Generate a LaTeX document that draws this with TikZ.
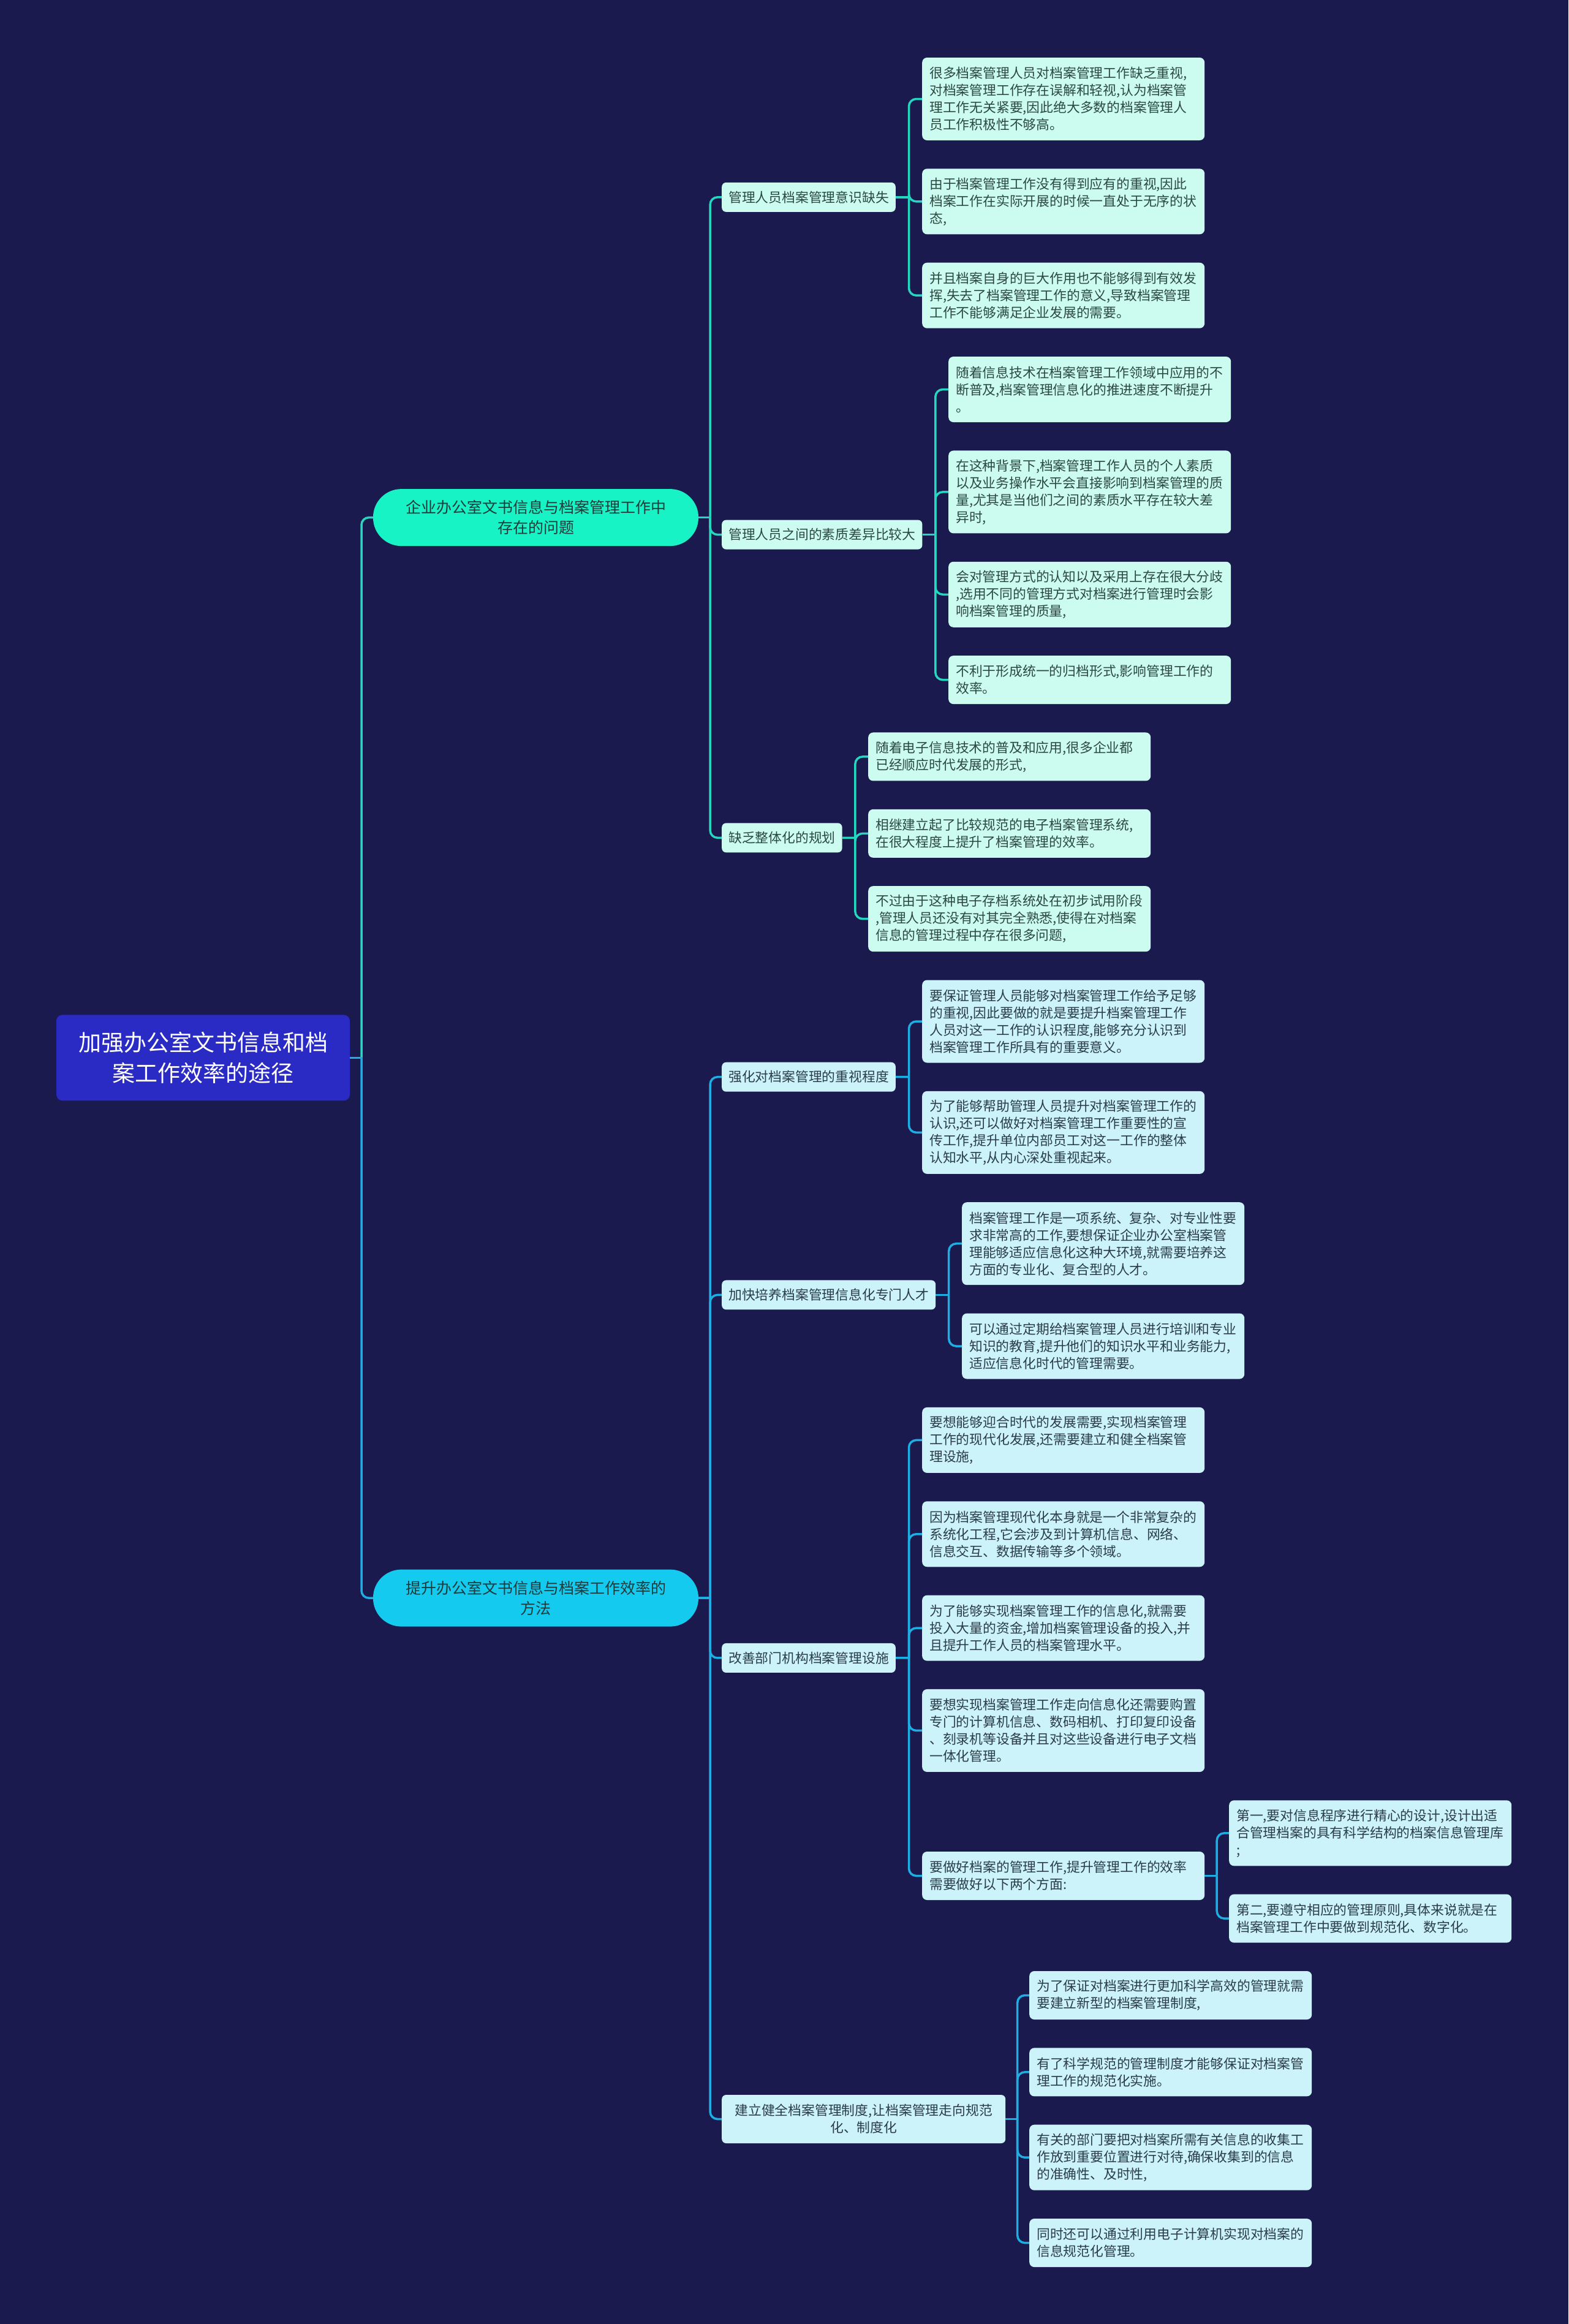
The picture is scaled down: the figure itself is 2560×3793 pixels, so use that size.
\documentclass[tikz,border=0pt]{standalone}
\usepackage{fontspec}
\setmainfont{Noto Sans CJK SC}
\usetikzlibrary{calc}
\definecolor{bgc}{HTML}{1B1A4F}
\definecolor{rootc}{HTML}{2A2AC4}
\definecolor{bonefill}{HTML}{18F3C5}
\definecolor{btwofill}{HTML}{14CAEE}
\definecolor{edgeAc}{HTML}{25D7BE}
\definecolor{edgeBc}{HTML}{1DAEE3}
\definecolor{leafAc}{HTML}{CCFBEF}
\definecolor{leafBc}{HTML}{CCF2FA}
\definecolor{textAc}{HTML}{2B4843}
\definecolor{textBc}{HTML}{2A3D47}
\definecolor{pilltext}{HTML}{1F3A3A}
\tikzset{
  basefont/.style={font=\fontsize{21.8}{28}\selectfont},
  rootn/.style={fill=rootc, text=white, rounded corners=10pt, minimum width=479pt,
    minimum height=140pt, align=center, inner sep=0pt, font=\fontsize{37}{50}\selectfont},
  pill/.style={rounded corners=46pt, minimum width=531pt, minimum height=93pt,
    align=center, inner sep=0pt, text=pilltext, font=\fontsize{25}{33}\selectfont},
  pillA/.style={pill, fill=bonefill},
  pillB/.style={pill, fill=btwofill},
  subn/.style={basefont, rounded corners=7pt, anchor=west, inner xsep=11pt, inner ysep=0pt,
    minimum height=48pt},
  subA/.style={subn, fill=leafAc, text=textAc},
  subB/.style={subn, fill=leafBc, text=textBc},
  leafn/.style={basefont, rounded corners=8pt, anchor=west, inner xsep=12pt, inner ysep=0pt,
    text width=437pt, align=left},
  leafA/.style={leafn, fill=leafAc, text=textAc},
  leafB/.style={leafn, fill=leafBc, text=textBc},
  nl/.style={minimum height={23pt+#1*28pt}},
  edgeA/.style={draw=edgeAc, line width=3.5pt, rounded corners=12pt},
  edgeB/.style={draw=edgeBc, line width=3.5pt, rounded corners=12pt},
}
\newcommand\myfan[4]{%
  \coordinate (J-#1) at ($(#1.east)!0.5!(#1.east -| #3.west)$);
  \draw[#2] (#1.east) -- (J-#1);
  \foreach \c in {#4} {\draw[#2] (J-#1) |- (\c.west);}
}
\begin{document}
\begin{tikzpicture}[x=1pt,y=-1pt]
\fill[bgc] (0,0) rectangle (2560,3793);
\useasboundingbox (0,0) rectangle (2560,3793);

% root and main branches
\node[rootn] (R) at (331.5,1726.35) {加强办公室文书信息和档\\案工作效率的途径};
\node[pillA] (B1) at (874.5,844.6) {企业办公室文书信息与档案管理工作中\\存在的问题};
\node[pillB] (B2) at (874.5,2608.1) {提升办公室文书信息与档案工作效率的\\方法};

% sub-branches
\node[subA] (S1) at (1178,321.85) {管理人员档案管理意识缺失};
\node[subA] (S2) at (1178,872.6) {管理人员之间的素质差异比较大};
\node[subA] (S3) at (1178,1367.3) {缺乏整体化的规划};
\node[subB] (S4) at (1178,1757.7) {强化对档案管理的重视程度};
\node[subB] (S5) at (1178,2113.4) {加快培养档案管理信息化专门人才};
\node[subB] (S6) at (1178,2705.95) {改善部门机构档案管理设施};
\node[subB, text width=441pt, align=center, inner xsep=11pt, nl=2] (S7) at (1178,3458.5) {建立健全档案管理制度,让档案管理走向规范\\化、制度化};

% leaves of S1
\node[leafA, nl=4] (L1a) at (1505,161.5) {很多档案管理人员对档案管理工作缺乏重视,\\对档案管理工作存在误解和轻视,认为档案管\\理工作无关紧要,因此绝大多数的档案管理人\\员工作积极性不够高。};
\node[leafA, nl=3] (L1b) at (1505,328.85) {由于档案管理工作没有得到应有的重视,因此\\档案工作在实际开展的时候一直处于无序的状\\态,};
\node[leafA, nl=3] (L1c) at (1505,482.2) {并且档案自身的巨大作用也不能够得到有效发\\挥,失去了档案管理工作的意义,导致档案管理\\工作不能够满足企业发展的需要。};
% leaves of S2
\node[leafA, nl=3] (L2a) at (1548,635.55) {随着信息技术在档案管理工作领域中应用的不\\断普及,档案管理信息化的推进速度不断提升\\。};
\node[leafA, nl=4] (L2b) at (1548,802.9) {在这种背景下,档案管理工作人员的个人素质\\以及业务操作水平会直接影响到档案管理的质\\量,尤其是当他们之间的素质水平存在较大差\\异时,};
\node[leafA, nl=3] (L2c) at (1548,970.25) {会对管理方式的认知以及采用上存在很大分歧\\,选用不同的管理方式对档案进行管理时会影\\响档案管理的质量,};
\node[leafA, nl=2] (L2d) at (1548,1109.6) {不利于形成统一的归档形式,影响管理工作的\\效率。};
% leaves of S3
\node[leafA, nl=2] (L3a) at (1417,1234.95) {随着电子信息技术的普及和应用,很多企业都\\已经顺应时代发展的形式,};
\node[leafA, nl=2] (L3b) at (1417,1360.3) {相继建立起了比较规范的电子档案管理系统,\\在很大程度上提升了档案管理的效率。};
\node[leafA, nl=3] (L3c) at (1417,1499.65) {不过由于这种电子存档系统处在初步试用阶段\\,管理人员还没有对其完全熟悉,使得在对档案\\信息的管理过程中存在很多问题,};
% leaves of S4
\node[leafB, nl=4] (L4a) at (1505,1667) {要保证管理人员能够对档案管理工作给予足够\\的重视,因此要做的就是要提升档案管理工作\\人员对这一工作的认识程度,能够充分认识到\\档案管理工作所具有的重要意义。};
\node[leafB, nl=4] (L4b) at (1505,1848.35) {为了能够帮助管理人员提升对档案管理工作的\\认识,还可以做好对档案管理工作重要性的宣\\传工作,提升单位内部员工对这一工作的整体\\认知水平,从内心深处重视起来。};
% leaves of S5
\node[leafB, nl=4] (L5a) at (1570,2029.7) {档案管理工作是一项系统、复杂、对专业性要\\求非常高的工作,要想保证企业办公室档案管\\理能够适应信息化这种大环境,就需要培养这\\方面的专业化、复合型的人才。};
\node[leafB, nl=3] (L5b) at (1570,2197.05) {可以通过定期给档案管理人员进行培训和专业\\知识的教育,提升他们的知识水平和业务能力,\\适应信息化时代的管理需要。};
% leaves of S6
\node[leafB, nl=3] (L6a) at (1505,2350.4) {要想能够迎合时代的发展需要,实现档案管理\\工作的现代化发展,还需要建立和健全档案管\\理设施,};
\node[leafB, nl=3] (L6b) at (1505,2503.75) {因为档案管理现代化本身就是一个非常复杂的\\系统化工程,它会涉及到计算机信息、网络、\\信息交互、数据传输等多个领域。};
\node[leafB, nl=3] (L6c) at (1505,2657.1) {为了能够实现档案管理工作的信息化,就需要\\投入大量的资金,增加档案管理设备的投入,并\\且提升工作人员的档案管理水平。};
\node[leafB, nl=4] (L6d) at (1505,2824.45) {要想实现档案管理工作走向信息化还需要购置\\专门的计算机信息、数码相机、打印复印设备\\、刻录机等设备并且对这些设备进行电子文档\\一体化管理。};
\node[leafB, nl=2] (L6e) at (1505,3061.5) {要做好档案的管理工作,提升管理工作的效率\\需要做好以下两个方面:};
\node[leafB, nl=3] (SL1) at (2006,2991.8) {第一,要对信息程序进行精心的设计,设计出适\\合管理档案的具有科学结构的档案信息管理库\\;};
\node[leafB, nl=2] (SL2) at (2006,3131.15) {第二,要遵守相应的管理原则,具体来说就是在\\档案管理工作中要做到规范化、数字化。};
% leaves of S7
\node[leafB, nl=2] (L7a) at (1680,3256.5) {为了保证对档案进行更加科学高效的管理就需\\要建立新型的档案管理制度,};
\node[leafB, nl=2] (L7b) at (1680,3381.85) {有了科学规范的管理制度才能够保证对档案管\\理工作的规范化实施。};
\node[leafB, nl=3] (L7c) at (1680,3521.2) {有关的部门要把对档案所需有关信息的收集工\\作放到重要位置进行对待,确保收集到的信息\\的准确性、及时性,};
\node[leafB, nl=2] (L7d) at (1680,3660.55) {同时还可以通过利用电子计算机实现对档案的\\信息规范化管理。};

% connectors
\myfan{R}{edgeA}{B1}{B1}
\myfan{R}{edgeB}{B1}{B2}
\myfan{B1}{edgeA}{S1}{S1,S2,S3}
\myfan{B2}{edgeB}{S4}{S4,S5,S6,S7}
\myfan{S1}{edgeA}{L1a}{L1a,L1b,L1c}
\myfan{S2}{edgeA}{L2a}{L2a,L2b,L2c,L2d}
\myfan{S3}{edgeA}{L3a}{L3a,L3b,L3c}
\myfan{S4}{edgeB}{L4a}{L4a,L4b}
\myfan{S5}{edgeB}{L5a}{L5a,L5b}
\myfan{S6}{edgeB}{L6a}{L6a,L6b,L6c,L6d,L6e}
\myfan{L6e}{edgeB}{SL1}{SL1,SL2}
\myfan{S7}{edgeB}{L7a}{L7a,L7b,L7c,L7d}
\end{tikzpicture}
\end{document}
